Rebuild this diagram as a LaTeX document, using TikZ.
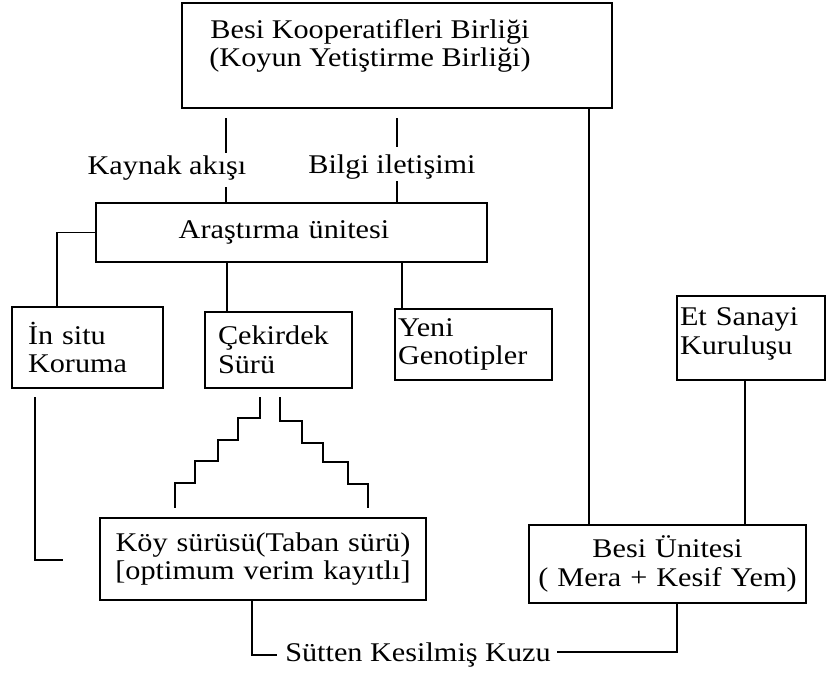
\documentclass[tikz,border=0pt]{standalone}
\usepackage{fontspec}
\setmainfont{Liberation Serif}[FakeStretch=1.12]
\begin{document}
\begin{tikzpicture}[x=1pt,y=-1pt,
  box/.style={draw, line width=1.4pt, inner sep=0pt, font=\fontsize{27}{28.5}\selectfont},
  wire/.style={line width=1.4pt},
  txt/.style={font=\fontsize{27}{28.5}\selectfont, inner sep=0pt}]
\path[use as bounding box, fill=white] (0,0) rectangle (827,681);

% boxes
\node[box, minimum width=430pt, minimum height=105pt] (top) at (397,55.5) {};
\node[txt, align=center] (toptxt) at (370,46) {Besi Kooperatifleri Birliği\\(Koyun Yetiştirme Birliği)};
\node[box, minimum width=391pt, minimum height=59pt, text width=300pt, align=center] (ara) at (291.5,232.5) {\hspace*{-15pt}Araştırma ünitesi};
\node[box, minimum width=151pt, minimum height=81pt, text width=119pt, align=left] (insitu) at (87.5,347.5) {İn situ\\Koruma};
\node[box, minimum width=147pt, minimum height=76pt, text width=121pt, align=left] (cek) at (278.5,350) {Çekirdek\\Sürü};
\node[box, minimum width=157pt, minimum height=71pt, text width=151pt, align=left] (yeni) at (473.5,344.5) {Yeni\\Genotipler};
\node[box, minimum width=148pt, minimum height=84pt, text width=142pt, align=left] (et) at (751,338) {Et Sanayi\\Kuruluşu\vspace*{8pt}};
\node[box, minimum width=326pt, minimum height=82pt, text width=320pt, align=center] (koy) at (263,559) {Köy sürüsü(Taban sürü)\\{[}optimum verim kayıtlı{]}};
\node[box, minimum width=277pt, minimum height=78pt, text width=270pt, align=center] (besi) at (667.5,564) {Besi Ünitesi\\( Mera + Kesif Yem)};

% labels
\node[txt] (kay) at (167,168) {Kaynak akışı};
\node[txt] (bil) at (392,167) {Bilgi iletişimi};
\node[txt] (kuzu) at (418,655) {Sütten Kesilmiş Kuzu};

% helper coordinates
\coordinate (ka) at (226,118); \coordinate (kb) at (226,153); \coordinate (kc) at (226,187);
\coordinate (ba) at (397,118); \coordinate (bb) at (397,147); \coordinate (bc) at (397,181);
\coordinate (rx) at (589,0);
\coordinate (lx) at (57,0);
\coordinate (cx) at (227,0);
\coordinate (yx) at (402,0);
\coordinate (ex) at (745,0);

% top to Arastirma
\draw[wire] (ka) -- (kb);
\draw[wire] (kc) -- (ara.north -| kc);
\draw[wire] (ba) -- (bb);
\draw[wire] (bc) -- (ara.north -| bc);
% top to Besi
\draw[wire] (top.south -| rx) -- (besi.north -| rx);
% Arastirma to children
\draw[wire] (ara.west) -| (insitu.north -| lx);
\draw[wire] (ara.south -| cx) -- (cek.north -| cx);
\draw[wire] (ara.south -| yx) -- (yeni.north -| yx);
% Et Sanayi to Besi
\draw[wire] (et.south -| ex) -- (besi.north -| ex);
% In situ to Koy
\coordinate (ia) at (35,397); \coordinate (ib) at (35,560); \coordinate (ic) at (63,560);
\draw[wire] (ia) -- (ib) -- (ic);
% staircases
\draw[wire] (260,397) -- (260,418) -- (238,418) -- (238,440) -- (218,440) -- (218,461) -- (195,461) -- (195,483) -- (175,483) -- (175,508);
\draw[wire] (280,397) -- (280,421) -- (302,421) -- (302,443) -- (323,443) -- (323,462) -- (348,462) -- (348,484) -- (368,484) -- (368,508);
% bottom
\coordinate (ka2) at (252,0); \coordinate (kz1) at (277,655);
\draw[wire] (koy.south -| ka2) |- (kz1);
\coordinate (kz2) at (557,652); \coordinate (bx) at (677,0);
\draw[wire] (kz2) -| (besi.south -| bx);
\end{tikzpicture}
\end{document}
